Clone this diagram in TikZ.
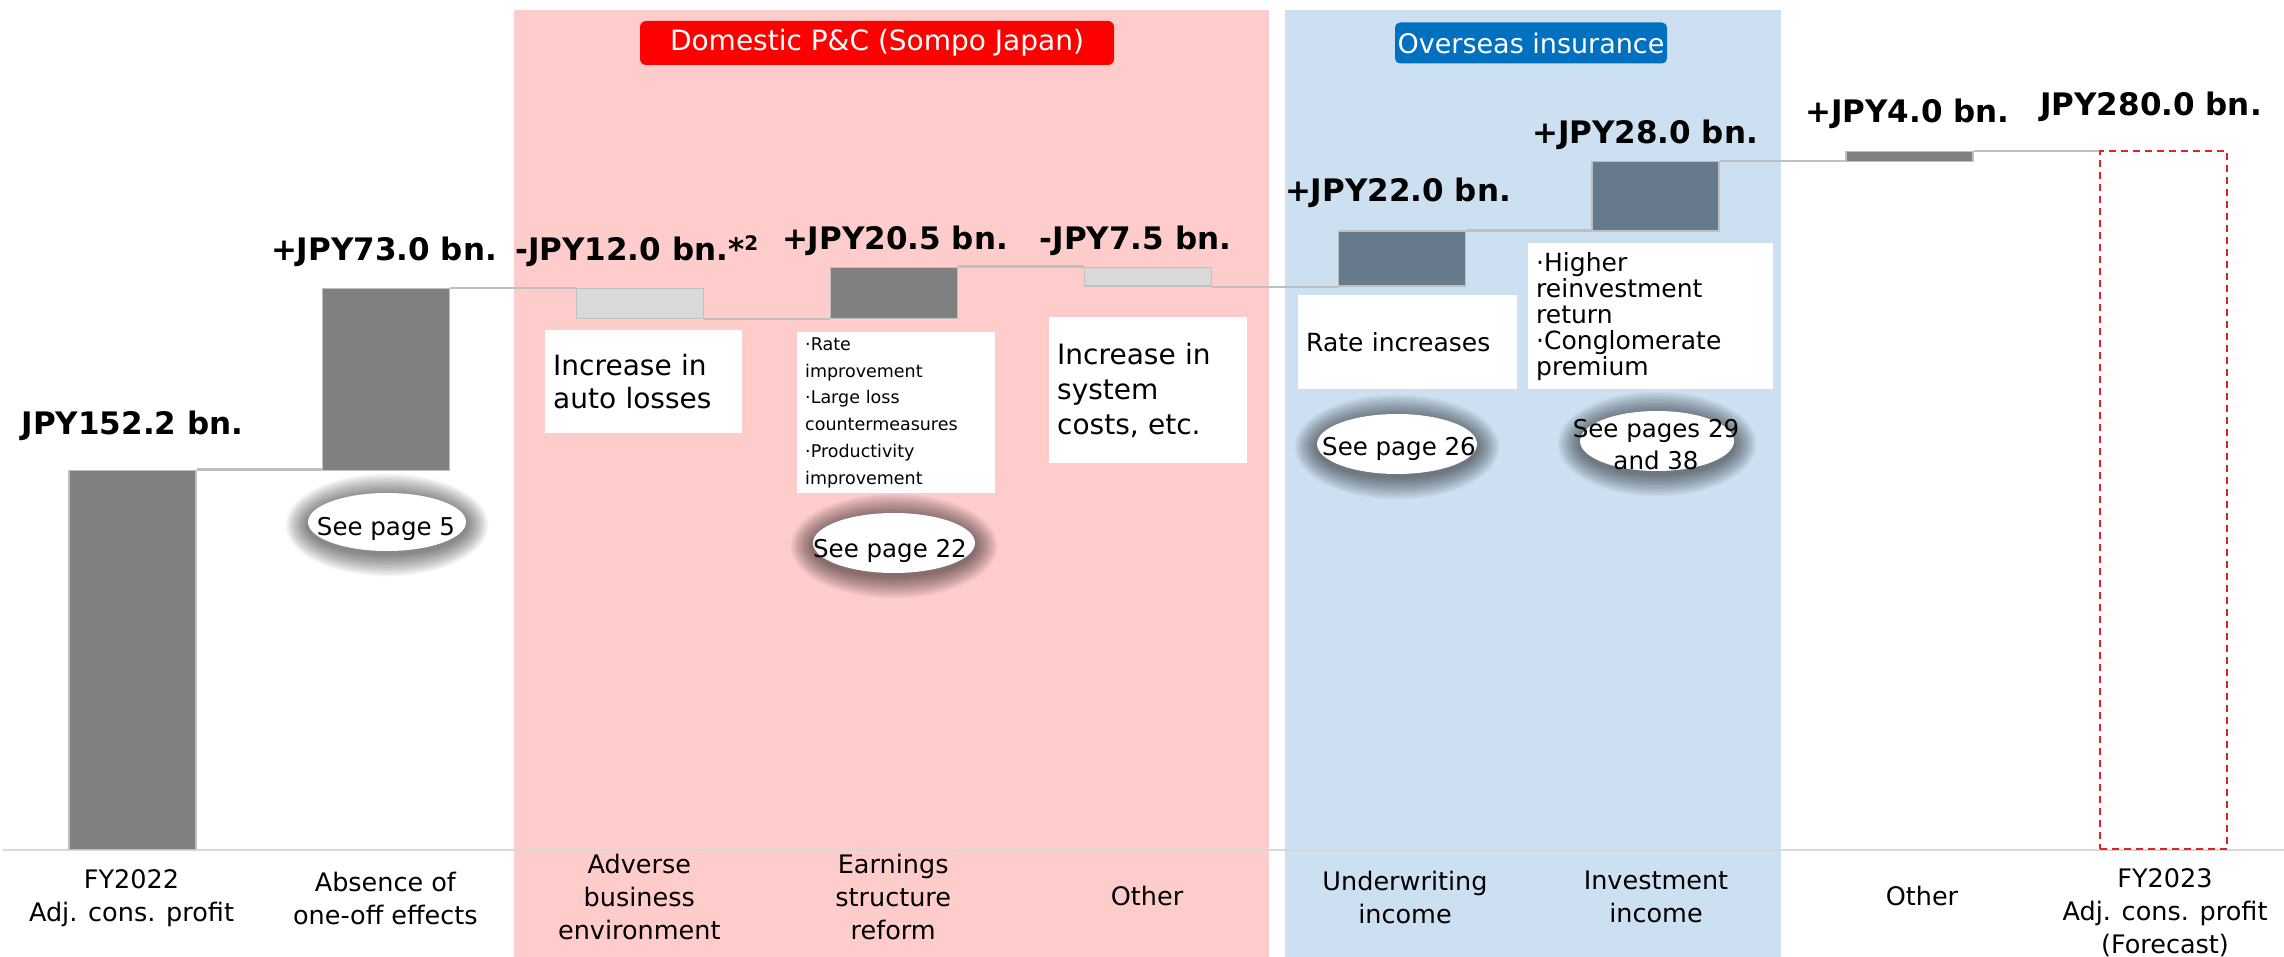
\documentclass[tikz,border=0pt]{standalone}
\usepackage{fontspec}
\setmainfont{DejaVu Sans}
\usetikzlibrary{shapes.geometric}
\definecolor{pinkbg}{RGB}{255,204,204}
\definecolor{bluebg}{RGB}{204,224,242}
\definecolor{hdrred}{RGB}{255,0,0}
\definecolor{hdrblue}{RGB}{0,112,192}
\definecolor{bargray}{RGB}{128,128,128}
\definecolor{barlight}{RGB}{217,217,217}
\definecolor{barslate}{RGB}{102,122,139}
\definecolor{barline}{RGB}{191,191,191}
\definecolor{connline}{RGB}{191,191,191}
\definecolor{axisline}{RGB}{217,217,217}
\definecolor{dashred}{RGB}{230,30,40}
\newcommand{\valfont}{\bfseries\fontsize{31}{37}\selectfont}
\newcommand{\catfont}{\fontsize{25.5}{33}\selectfont}
\newcommand{\seefont}{\fontsize{24.5}{32}\selectfont}
\newcommand{\seehalo}[4]{%
  \foreach \i in {1,...,16}{\fill[black,opacity=0.035] (#1,#2+3) ellipse [x radius={#3pt+1.4pt*\i}, y radius={#4pt+1.4pt*\i}];}%
  \fill[white] (#1,#2) ellipse [x radius=#3pt, y radius=#4pt];}
\begin{document}
\begin{tikzpicture}[x=1pt,y=-1pt,
  bar/.style={draw=barline, line width=1.5pt, inner sep=0pt, minimum width=127pt, anchor=south west},
  conn/.style={draw=connline, line width=2.2pt},
  val/.style={font=\valfont, anchor=base, inner sep=0pt},
  desc/.style={fill=white, inner xsep=8pt, inner ysep=0pt, align=left, anchor=north west},
  cat/.style={align=center, font=\catfont, inner sep=0pt},
  see/.style={font=\seefont, inner sep=0pt, align=center},
  hdr/.style={inner sep=0pt, text=white}]
\useasboundingbox (0,0) rectangle (2284,957);
\fill[white] (0,0) rectangle (2284,957);
% segment backgrounds
\fill[pinkbg] (514,10) rectangle (1269,957);
\fill[bluebg] (1285,10) rectangle (1781,957);
% axis
\draw[axisline, line width=2.5pt] (3,850) -- (2284,850);
% headers
\node[hdr, fill=hdrred, rounded corners=6pt, minimum width=474pt, minimum height=44pt, font=\fontsize{28}{30}\selectfont] (hdom) at (877,43) {Domestic P\&C (Sompo Japan)};
\node[hdr, fill=hdrblue, rounded corners=5pt, minimum width=272pt, minimum height=41pt, font=\fontsize{27}{30}\selectfont] (hover) at (1531,43) {Overseas insurance};
% bars
\node[bar, fill=bargray, minimum height=379pt] (b1) at (68,850) {};
\node[bar, fill=bargray, minimum height=181.7pt] (b2) at (321.9,471) {};
\node[bar, fill=barlight, minimum height=29.8pt] (b3) at (575.8,319.1) {};
\node[bar, fill=bargray, minimum height=51pt] (b4) at (829.7,319.1) {};
\node[bar, fill=barlight, minimum height=18.7pt] (b5) at (1083.6,286.8) {};
\node[bar, fill=barslate, minimum height=54.8pt] (b6) at (1337.5,286.8) {};
\node[bar, fill=barslate, minimum height=69.7pt] (b7) at (1591.4,232) {};
\node[bar, fill=bargray, minimum height=10pt] (b8) at (1845.3,162.3) {};
\node[bar, draw=dashred, dash pattern=on 7pt off 5pt, line width=2pt, minimum height=697.7pt] (b9) at (2099.2,850) {};
% connectors
\draw[conn] (b1.north east) -- (b1.north east -| b2.west);
\draw[conn] (b2.north east) -- (b2.north east -| b3.west);
\draw[conn] (b3.south east) -- (b3.south east -| b4.west);
\draw[conn] (b4.north east) -- (b4.north east -| b5.west);
\draw[conn] (b5.south east) -- (b5.south east -| b6.west);
\draw[conn] (b6.north east) -- (b6.north east -| b7.west);
\draw[conn] (b7.north east) -- (b7.north east -| b8.west);
\draw[conn] (b8.north east) -- (b8.north east -| b9.west);
% values
\node[val] (v1) at (132.5,435) {JPY152.2 bn.};
\node[val] (v2) at (384,261) {+JPY73.0 bn.};
\node[val, anchor=base west] (v3) at (515,261) {-JPY12.0 bn.*\raisebox{0.6ex}{\fontsize{20}{20}\selectfont 2}};
\node[val] (v4) at (895,250) {+JPY20.5 bn.};
\node[val] (v5) at (1135.5,250) {-JPY7.5 bn.};
\node[val] (v6) at (1398,202) {+JPY22.0 bn.};
\node[val] (v7) at (1645,144) {+JPY28.0 bn.};
\node[val] (v8) at (1907.5,123) {+JPY4.0 bn.};
\node[val] (v9) at (2151,116) {JPY280.0 bn.};
% description boxes
\node[desc, text width=181pt, minimum height=103pt, font=\fontsize{28}{33}\selectfont] (d3) at (545,330) {Increase in\\auto losses};
\node[desc, text width=182pt, minimum height=161pt, font=\fontsize{17.5}{26.7}\selectfont] (d4) at (797,332) {·Rate\\improvement\\·Large loss\\countermeasures\\·Productivity\\improvement};
\node[desc, text width=182pt, minimum height=146pt, font=\fontsize{28}{35}\selectfont] (d5) at (1049,317) {Increase in\\system\\costs, etc.};
\node[desc, text width=203pt, minimum height=94pt, font=\fontsize{25}{30}\selectfont] (d6) at (1298,295) {Rate increases};
\node[desc, text width=229pt, minimum height=146pt, font=\fontsize{25}{26}\selectfont] (d7) at (1528,243) {·Higher\\reinvestment\\return\\·Conglomerate\\premium};
% see-page ellipses
\seehalo{387}{522}{79}{29}
\seehalo{894}{543}{81}{30}
\seehalo{1397}{444}{80}{30}
\seehalo{1657}{441}{77}{30}
\node[see, anchor=base] (s2) at (386,535) {See page 5};
\node[see, anchor=base] (s4) at (890,557) {See page 22};
\node[see, anchor=base] (s6) at (1399,455) {See page 26};
\node[see] (s7) at (1656,445) {See pages 29\\and 38};
% categories
\node[cat] (c1) at (131.5,898) {FY2022\\Adj. cons. profit};
\node[cat] (c2) at (385.4,898) {Absence of\\one-off effects};
\node[cat] (c3) at (639.3,897) {Adverse\\business\\environment};
\node[cat] (c4) at (893.2,897) {Earnings\\structure\\reform};
\node[cat] (c5) at (1147.1,896) {Other};
\node[cat] (c6) at (1405,897) {Underwriting\\income};
\node[cat] (c7) at (1656,897) {Investment\\income};
\node[cat] (c8) at (1922,896) {Other};
\node[cat] (c9) at (2165,913) {FY2023\\Adj. cons. profit\\(Forecast)};
\end{tikzpicture}
\end{document}
